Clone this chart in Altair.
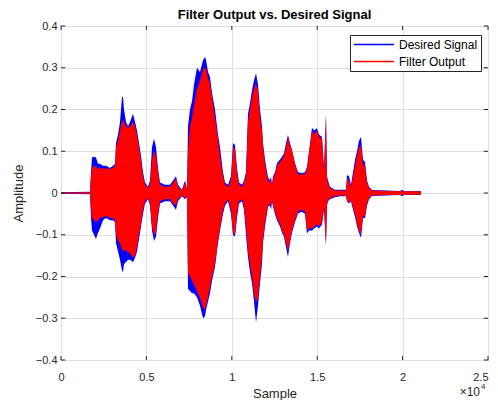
import altair as alt
import pandas as pd

# Envelope of the two waveforms (sample index, amplitude)
samples = [0, 1698, 1756, 1815, 1932, 2049, 2166, 2283, 2459, 2635, 2869, 3045, 3162, 3220,
           3337, 3454, 3571, 3630, 3689, 3806, 3923, 4040, 4216, 4333, 4450, 4567, 4684, 4801,
           4918, 5094, 5211, 5328, 5445, 5562, 5679, 5796, 6089, 6382, 6558, 6733, 6850, 7084,
           7260, 7377, 7436, 7553, 7670, 7787, 7963, 8138, 8314, 8431, 8490, 8607, 8724, 8841,
           9016, 9192, 9309, 9485, 9602, 9778, 9953, 10070, 10187, 10304, 10421, 10597, 10714,
           10831, 10948, 11066, 11183, 11300, 11417, 11534, 11651, 11768, 11827, 11944, 12119,
           12236, 12295, 12354, 12412, 12529, 12646, 12822, 12939, 13056, 13173, 13290, 13407,
           13525, 13700, 13876, 14110, 14286, 14403, 14520, 14696, 14813, 14988, 15105, 15281,
           15398, 15515, 15574, 15632, 15749, 16042, 16335, 16686, 16745, 16862, 16979, 17096,
           17213, 17330, 17447, 17564, 17681, 17799, 17916, 18033, 18208, 19848, 19965, 20082,
           21077]
desired_upper = [0.002, 0.003, 0.05, 0.085, 0.087, 0.085, 0.07, 0.07, 0.065, 0.065, 0.06, 0.065, 0.07, 0.12,
                 0.14, 0.17, 0.23, 0.23, 0.2, 0.17, 0.16, 0.17, 0.19, 0.17, 0.15, 0.12, 0.09, 0.05,
                 0.025, 0.015, 0.03, 0.11, 0.13, 0.11, 0.06, 0.025, 0.02, 0.02, 0.03, 0.04, 0.02, 0.008,
                 0.03, 0.01, 0.16, 0.2, 0.22, 0.26, 0.3, 0.29, 0.318, 0.326, 0.32, 0.29, 0.278, 0.24,
                 0.2, 0.14, 0.11, 0.05, 0.025, 0.02, 0.04, 0.12, 0.115, 0.06, 0.025, 0.02, 0.03,
                 0.05, 0.19, 0.215, 0.247, 0.27, 0.287, 0.26, 0.2, 0.16, 0.12, 0.08, 0.038,
                 0.03, 0.04, 0.02, 0.04, 0.05, 0.072, 0.08, 0.087, 0.095, 0.12, 0.139, 0.12,
                 0.103, 0.072, 0.05, 0.048, 0.05, 0.062, 0.1, 0.156, 0.15, 0.155, 0.14, 0.134,
                 0.06, 0.187, 0.04, 0.03, 0.015, 0.008, 0.008, 0.008, 0.043, 0.04, 0.02, 0.05,
                 0.079, 0.1, 0.125, 0.134, 0.08, 0.074, 0.03, 0.015, 0.007, 0.005, 0.008, 0.005,
                 0.005]
desired_lower = [-0.002, -0.003, -0.06, -0.09, -0.1, -0.11, -0.095, -0.085, -0.065, -0.06, -0.065, -0.065, -0.07, -0.12,
                 -0.14, -0.16, -0.185, -0.19, -0.17, -0.165, -0.16, -0.16, -0.165, -0.155, -0.14, -0.11, -0.08, -0.05,
                 -0.025, -0.015, -0.03, -0.09, -0.115, -0.105, -0.06, -0.025, -0.02, -0.02, -0.03, -0.04, -0.02, -0.008,
                 -0.015, -0.01, -0.23, -0.235, -0.24, -0.24, -0.25, -0.27, -0.3, -0.295, -0.28, -0.26, -0.24, -0.21,
                 -0.177, -0.12, -0.09, -0.05, -0.03, -0.02, -0.05, -0.1, -0.105, -0.06, -0.025, -0.02, -0.04,
                 -0.1, -0.153, -0.19, -0.216, -0.26, -0.31, -0.27, -0.216, -0.17, -0.12, -0.08, -0.033,
                 -0.03, -0.04, -0.02, -0.033, -0.05, -0.065, -0.08, -0.095, -0.105, -0.13, -0.153, -0.12,
                 -0.095, -0.07, -0.049, -0.045, -0.05, -0.097, -0.09, -0.09, -0.085, -0.08, -0.085, -0.075,
                 -0.04, -0.125, -0.03, -0.02, -0.015, -0.01, -0.008, -0.008, -0.02, -0.025, -0.02, -0.04,
                 -0.057, -0.08, -0.095, -0.108, -0.06, -0.06, -0.03, -0.015, -0.007, -0.005, -0.008, -0.005,
                 -0.005]
filter_upper = [0.001, 0.002, 0.04, 0.06, 0.065, 0.062, 0.06, 0.058, 0.06, 0.058, 0.058, 0.06, 0.065, 0.11,
                0.125, 0.15, 0.17, 0.175, 0.17, 0.16, 0.155, 0.16, 0.17, 0.16, 0.14, 0.11, 0.08, 0.04,
                0.02, 0.012, 0.02, 0.08, 0.1, 0.09, 0.05, 0.02, 0.015, 0.015, 0.025, 0.035, 0.015, 0.006,
                0.025, 0.008, 0.1, 0.16, 0.18, 0.21, 0.25, 0.27, 0.295, 0.3, 0.3, 0.275, 0.263, 0.23,
                0.18, 0.13, 0.09, 0.04, 0.02, 0.015, 0.03, 0.11, 0.105, 0.05, 0.02, 0.015, 0.025,
                0.04, 0.17, 0.2, 0.23, 0.25, 0.263, 0.245, 0.18, 0.15, 0.11, 0.07, 0.03,
                0.025, 0.035, 0.015, 0.035, 0.045, 0.065, 0.075, 0.08, 0.09, 0.11, 0.135, 0.115,
                0.1, 0.07, 0.045, 0.045, 0.045, 0.058, 0.095, 0.15, 0.14, 0.15, 0.135, 0.13,
                0.05, 0.187, 0.035, 0.025, 0.012, 0.006, 0.006, 0.006, 0.035, 0.03, 0.015, 0.04,
                0.065, 0.09, 0.11, 0.115, 0.07, 0.065, 0.025, 0.012, 0.006, 0.004, 0.005, 0.004,
                0.004]
filter_lower = [-0.001, -0.002, -0.04, -0.06, -0.065, -0.07, -0.065, -0.06, -0.058, -0.055, -0.06, -0.06, -0.065, -0.1,
                -0.115, -0.12, -0.135, -0.14, -0.135, -0.14, -0.14, -0.145, -0.155, -0.15, -0.13, -0.1, -0.075, -0.04,
                -0.02, -0.012, -0.025, -0.08, -0.1, -0.095, -0.05, -0.02, -0.015, -0.015, -0.025, -0.03, -0.015, -0.006,
                -0.012, -0.008, -0.19, -0.2, -0.21, -0.22, -0.235, -0.25, -0.275, -0.28, -0.27, -0.25, -0.225, -0.2,
                -0.17, -0.115, -0.085, -0.04, -0.025, -0.015, -0.04, -0.095, -0.1, -0.05, -0.02, -0.015, -0.03,
                -0.08, -0.14, -0.17, -0.2, -0.24, -0.263, -0.25, -0.2, -0.15, -0.11, -0.07, -0.03,
                -0.025, -0.035, -0.015, -0.03, -0.045, -0.06, -0.075, -0.09, -0.1, -0.12, -0.14, -0.115,
                -0.09, -0.065, -0.045, -0.04, -0.045, -0.09, -0.085, -0.085, -0.08, -0.075, -0.08, -0.07,
                -0.035, -0.125, -0.025, -0.018, -0.012, -0.008, -0.006, -0.006, -0.018, -0.022, -0.018, -0.035,
                -0.05, -0.075, -0.09, -0.1, -0.055, -0.055, -0.025, -0.012, -0.006, -0.004, -0.005, -0.004,
                -0.004]

title_text = "Filter Output vs. Desired Signal"
series_names = ["Desired Signal", "Filter Output"]
series_colors = ["#0000ff", "#ff0000"]
x_ticks = [0, 5000, 10000, 15000, 20000, 25000]
y_ticks = [-0.4, -0.3, -0.2, -0.1, 0, 0.1, 0.2, 0.3, 0.4]

rows = []
for i, s in enumerate(samples):
    rows.append({"sample": s, "upper": desired_upper[i], "lower": desired_lower[i], "series": series_names[0]})
for i, s in enumerate(samples):
    rows.append({"sample": s, "upper": filter_upper[i], "lower": filter_lower[i], "series": series_names[1]})
df = pd.DataFrame(rows)

xscale = alt.Scale(domain=[0, 25000], nice=False, zero=False)
yscale = alt.Scale(domain=[-0.4, 0.4], nice=False, zero=False)

xax = alt.Axis(values=x_ticks, labelExpr="datum.value / 10000", title="Sample", grid=True,
               tickSize=0, labelPadding=11, titlePadding=5, domain=False,
               labelAlign={"condition": {"test": "datum.value == 25000", "value": "right"}, "value": "center"})
yax = alt.Axis(values=y_ticks, labelExpr="datum.value == 0 ? '0' : format(datum.value, '.1f')",
               title="Amplitude", grid=True, tickSize=0, labelPadding=4, titlePadding=10, domain=False)

def area_layer(name, color):
    return alt.Chart(df).transform_filter(alt.datum.series == name).mark_area(
        color=color, opacity=1, interpolate="linear"
    ).encode(
        x=alt.X("sample:Q", scale=xscale, axis=xax),
        y=alt.Y("upper:Q", scale=yscale, axis=yax),
        y2="lower:Q",
    )

blue = area_layer(series_names[0], series_colors[0])
red = area_layer(series_names[1], series_colors[1])

# legend carrier: a rule layer with no rows, so only its legend is drawn
legend_layer = alt.Chart(df).transform_filter("false").mark_rule().encode(
    y=alt.Y("upper:Q", scale=yscale),
    color=alt.Color("series:N", scale=alt.Scale(domain=series_names, range=series_colors),
                    legend=alt.Legend(title=None, orient="none", legendX=289, legendY=9,
                                      symbolType="stroke", symbolSize=1600, symbolStrokeWidth=1.5,
                                      clipHeight=13, labelFontSize=12,
                                      labelColor="#000000", fillColor="#ffffff",
                                      strokeColor="#262626", padding=3, rowPadding=4,
                                      labelOffset=4, labelFont="Liberation Sans", labelLimit=300)),
)

tick_df = pd.DataFrame({"t": x_ticks})
ytick_df = pd.DataFrame({"t": y_ticks})
bt = alt.Chart(tick_df).mark_rule(color="#262626").encode(
    x=alt.X("t:Q", scale=xscale), y=alt.datum(-0.4), y2=alt.datum(-0.3905))
tt = alt.Chart(tick_df).mark_rule(color="#262626").encode(
    x=alt.X("t:Q", scale=xscale), y=alt.datum(0.4), y2=alt.datum(0.3905))
lt = alt.Chart(ytick_df).mark_rule(color="#262626").encode(
    y=alt.Y("t:Q", scale=yscale), x=alt.datum(0), x2=alt.datum(250))
rt = alt.Chart(ytick_df).mark_rule(color="#262626").encode(
    y=alt.Y("t:Q", scale=yscale), x=alt.datum(25000), x2=alt.datum(24750))

one = pd.DataFrame({"a": [0]})
title_mark = alt.Chart(one).mark_text(
    text=title_text, fontSize=13, fontWeight="bold", font="Liberation Sans", color="#000000",
    align="center", baseline="alphabetic", dy=-7).encode(x=alt.datum(12500), y=alt.datum(0.4))
exp_base = alt.Chart(one).mark_text(
    text="×10", fontSize=12, font="Liberation Sans", color="#262626", align="right", baseline="middle",
    dx=-8, dy=32).encode(x=alt.datum(25000), y=alt.datum(-0.4))
exp_pow = alt.Chart(one).mark_text(
    text="4", fontSize=8, font="Liberation Sans", color="#262626", align="left", baseline="middle",
    dx=-7, dy=27).encode(x=alt.datum(25000), y=alt.datum(-0.4))

chart = alt.layer(blue, red, legend_layer, bt, tt, lt, rt, title_mark, exp_base, exp_pow).properties(
    width=427, height=334,
    autosize=alt.AutoSizeParams(type="none"),
    padding={"left": 53, "top": 18, "right": 2, "bottom": 40},
).configure_view(
    stroke="#262626", strokeWidth=1, clip=False
).configure_axis(
    gridColor="#dfdfdf", gridWidth=1, labelFont="Liberation Sans", labelFontSize=11,
    labelColor="#262626", titleFont="Liberation Sans", titleFontSize=13, titleFontWeight="normal",
    titleColor="#262626"
)

chart.save("out.html", embed_options={"renderer": "svg", "actions": False})
